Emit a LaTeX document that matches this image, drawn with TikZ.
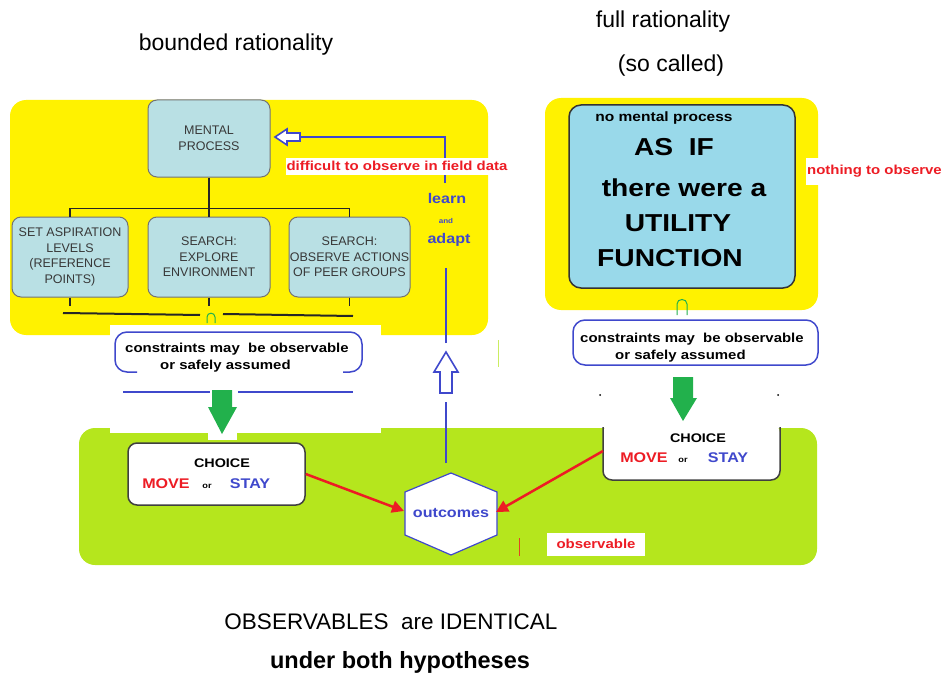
\documentclass[tikz,border=0pt]{standalone}
\usepackage{fontspec}
\setmainfont{Liberation Sans}
\newfontfamily\bw[FakeStretch=1.15]{Liberation Sans}
\usetikzlibrary{arrows.meta}
\definecolor{ylw}{RGB}{255,242,0}
\definecolor{grn}{RGB}{181,230,29}
\definecolor{pblue}{RGB}{63,72,204}
\definecolor{pred}{RGB}{237,28,36}
\definecolor{pgreen}{RGB}{34,177,76}
\definecolor{boxa}{RGB}{185,224,228}
\definecolor{boxb}{RGB}{153,217,234}
\newcommand{\fsz}[2]{\fontsize{#1}{#2}\selectfont}
\begin{document}
\begin{tikzpicture}[x=1pt,y=-1pt,
  greybox/.style={draw=black!55, line width=1pt, fill=boxa, rounded corners=9pt, inner sep=0pt,
    text=black!78, font=\fsz{12.5}{15.5}, align=center},
  tree/.style={draw=black!85, line width=1.5pt},
  bl/.style={draw=pblue, line width=1.6pt},
  btS/.style={font=\bw\bfseries\fsz{13}{17}, inner sep=1pt},
  btM/.style={font=\bw\bfseries\fsz{14}{17}, inner sep=1pt},
  btL/.style={font=\bw\bfseries\fsz{24.5}{28}, inner sep=0pt},
  redlbl/.style={btS, fill=white, text=pred},
  choicebox/.style={draw=black!75, line width=1.5pt, fill=white, rounded corners=9pt},
  redarr/.style={draw=pred, line width=2.5pt, -{Triangle[length=12pt,width=12pt]}},
  cbox/.style={draw=pblue, line width=1.5pt, rounded corners=12pt},
  nmark/.style={draw=pgreen, line width=1pt}
]
\useasboundingbox (0,0) rectangle (946,677);

% backgrounds
\fill[ylw, rounded corners=16pt] (10,100) rectangle (488,335);
\fill[ylw, rounded corners=16pt] (545,98) rectangle (818,310);
\fill[grn, rounded corners=16pt] (79,428) rectangle (817,565);
\fill[white] (110,325) rectangle (381,433);
\fill[white] (208,433) rectangle (237,440);
\draw[grn!70!white, line width=1pt] (498,340) -- (498,367);

% titles
\node[font=\fsz{23}{26}] (t1) at (236,45) {bounded rationality};
\node[font=\fsz{23}{26}] (t2) at (663,22) {full rationality};
\node[font=\fsz{23}{26}] (t3) at (671,66) {(so called)};

% left tree
\node[greybox, minimum width=122pt, minimum height=77pt] (mp) at (209,138.5) {MENTAL\\PROCESS};
\node[greybox, minimum width=116pt, minimum height=80pt] (sal) at (70,257) {SET ASPIRATION\\LEVELS\\(REFERENCE\\POINTS)};
\node[greybox, minimum width=122pt, minimum height=80pt] (exp) at (209,257) {SEARCH:\\EXPLORE\\ENVIRONMENT};
\node[greybox, minimum width=121pt, minimum height=80pt] (obs) at (349.5,257) {SEARCH:\\OBSERVE ACTIONS\\OF PEER GROUPS};
\draw[tree] (mp.south) -- ++(0,31) coordinate (j);
\draw[tree] (sal.north) |- (j) -| (obs.north);
\draw[tree] (j) -- (exp.north);
\draw[tree] (sal.south) -- ++(0,8);
\draw[tree] (exp.south) -- ++(0,8);
\draw[tree] (obs.south) -- ++(0,8);
\draw[tree, line width=2pt] (63,313) -- (200,315);
\draw[tree, line width=2pt] (223,314) -- (353,316);
\draw[nmark] (207,323) -- (207,317) .. controls (207,312) and (215,312) .. (215,317) -- (215,323);

% right utility box
\node[draw=black!80, line width=1.5pt, fill=boxb, rounded corners=12pt,
  minimum width=226pt, minimum height=183pt] (uf) at (682,196.5) {};
\node[font=\bw\bfseries\fsz{13.5}{16}] (nmp) at (664,118) {no mental process};
\node[btL] (asif) at (674,147) {AS\ \ IF};
\node[btL] (tw) at (684,188) {there were a};
\node[btL] (ut) at (678,223) {UTILITY};
\node[btL] (fn) at (670,258) {FUNCTION};
\draw[nmark] (677,315) -- (677,304) .. controls (677,298) and (687,298) .. (687,304) -- (687,315);

% constraints boxes
\draw[cbox] (137,372) -- (115,372) -- (115,332) -- (362,332) -- (362,372) -- (343,372);
\draw[pblue, line width=1.5pt] (123,392) -- (210,392);
\draw[pblue, line width=1.5pt] (238,392) -- (353,392);
\node[btS, anchor=west, align=left] (cl) at (124,358) {constraints may\ \ be observable\\\hspace{35pt}or safely assumed};
\draw[cbox] (573,320) rectangle (818,365);
\node[btS, anchor=west, align=left] (cr) at (579,348) {constraints may\ \ be observable\\\hspace{35pt}or safely assumed};

% green arrows
\fill[pgreen] (212,390) -- (232,390) -- (232,407) -- (237,407) -- (222,434) -- (208,407) -- (212,407) -- cycle;
\fill[pgreen] (673,377) -- (693,377) -- (693,398) -- (697,398) -- (683,421) -- (670,398) -- (673,398) -- cycle;
\fill (600,395) circle[radius=1pt];
\fill (778,395) circle[radius=1pt];

% choice boxes
\node[choicebox, minimum width=177pt, minimum height=62pt] (chL) at (216.5,474) {};
\node[font=\bw\bfseries\fsz{12.5}{15}] at (222,463) {CHOICE};
\node[btM, text=pred] at (166,484) {MOVE};
\node[font=\bw\bfseries\fsz{8}{9}] at (207,486) {or};
\node[btM, text=pblue] at (250,484) {STAY};

\fill[white, rounded corners=9pt] (603,424) -- (603,480) -- (780,480) -- (780,424) -- cycle;
\draw[black!75, line width=1.5pt, rounded corners=9pt] (603,427) -- (603,480) -- (780,480) -- (780,427);
\coordinate (chR) at (603,451);
\node[font=\bw\bfseries\fsz{12.5}{15}] at (698,438) {CHOICE};
\node[btM, text=pred] at (644,458) {MOVE};
\node[font=\bw\bfseries\fsz{8}{9}] at (683,460) {or};
\node[btM, text=pblue] at (728,458) {STAY};

% outcomes hexagon
\coordinate (hT) at (451,473);
\coordinate (hL) at (404,511);
\coordinate (hR) at (496,512);
\draw[pblue, line width=1.2pt, fill=white] (451,473) -- (497,492) -- (497,535) -- (451,555) -- (405,535) -- (405,492) -- cycle;
\node[btM, text=pblue] (oc) at (451,513) {outcomes};
\draw[redarr] (chL.east) -- (hL);
\draw[redarr] (chR) -- (hR);
\draw[pred!80!grn, line width=0.6pt] (519,538) -- (519,556);

% learn and adapt
\draw[bl] ([shift={(-5,-10)}]hT) -- (446,402);
\draw[bl, fill=white, line join=miter] (446,352) -- (458,372) -- (452,372) -- (452,393) -- (440,393) -- (440,372) -- (434,372) -- cycle;
\draw[bl] (446,343) -- (446,268);
\node[btM, text=pblue] (ln) at (447,198) {learn};
\node[font=\bw\bfseries\fsz{7}{8}, text=pblue] (an) at (446,221) {and};
\node[btM, text=pblue] (ad) at (449,240) {adapt};
\draw[bl] (445,183) -- (445,137) -- (300,137);
\draw[bl, fill=white, line join=miter] (275,137) -- (287,129) -- (287,133) -- (300,133) -- (300,141) -- (287,141) -- (287,145) -- cycle;

% labels
\node[redlbl, minimum height=17pt] (dif) at (397,166) {difficult to observe in field data};
\node[redlbl, minimum height=27pt, anchor=west] (not) at (806,171.5) {nothing to observe};
\node[redlbl, minimum width=98pt, minimum height=23pt] (obl) at (596,544) {observable};

% bottom text
\node[font=\fsz{22.5}{26}] (b1) at (391,622) {OBSERVABLES\ \ are IDENTICAL};
\node[font=\bfseries\fsz{23.5}{26}] (b2) at (400,662) {under both hypotheses};
\end{tikzpicture}
\end{document}
